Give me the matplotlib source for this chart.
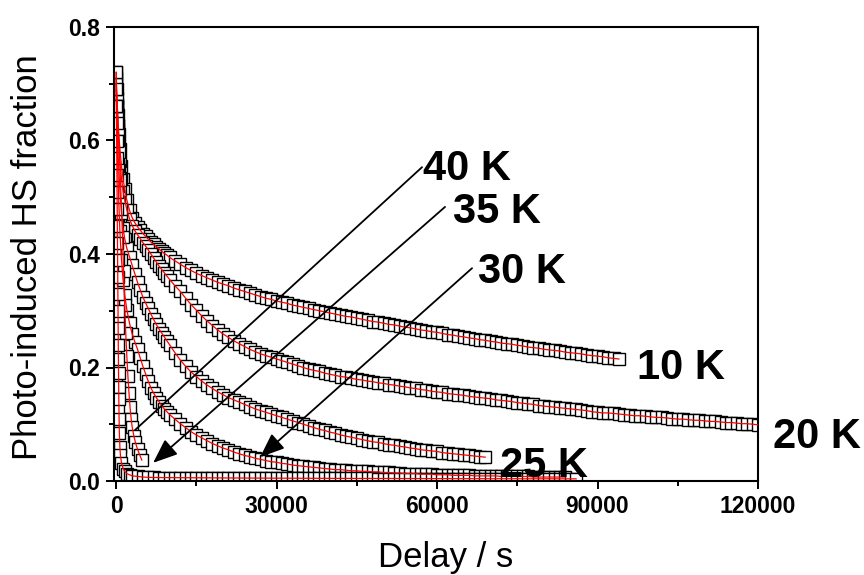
import numpy as np
import matplotlib
matplotlib.use('Agg')
from matplotlib import pyplot as plt
from matplotlib.ticker import MultipleLocator

plt.rcParams['font.family'] = ['Liberation Sans', 'DejaVu Sans']

# sampling of the delay axis (s) for the long runs
t_early = [0, 100, 200, 300, 400, 500, 700, 1000, 1300, 1600, 2000]


def grid(end):
    return np.concatenate([t_early, np.arange(2500, 10001, 500), np.arange(11000, end + 1, 1000)])


t10 = grid(94000)
y10 = [0.720, 0.690, 0.665, 0.645, 0.627, 0.611, 0.585, 0.555, 0.532, 0.514, 0.495,
       0.477, 0.464, 0.455, 0.448, 0.442, 0.436, 0.431, 0.426, 0.421, 0.417, 0.413, 0.409, 0.405, 0.401, 0.398, 0.394,
       0.388, 0.382, 0.376, 0.371, 0.366, 0.362, 0.358, 0.354, 0.350, 0.347,
       0.344, 0.340, 0.337, 0.334, 0.331, 0.328, 0.325, 0.322, 0.320, 0.317,
       0.315, 0.313, 0.310, 0.308, 0.306, 0.304, 0.302, 0.300, 0.298, 0.296,
       0.294, 0.292, 0.290, 0.289, 0.287, 0.285, 0.283, 0.281, 0.280, 0.278,
       0.276, 0.275, 0.273, 0.271, 0.270, 0.268, 0.266, 0.265, 0.263, 0.262,
       0.260, 0.258, 0.257, 0.255, 0.254, 0.252, 0.251, 0.249, 0.248, 0.246,
       0.245, 0.243, 0.242, 0.241, 0.239, 0.238, 0.236, 0.235, 0.234, 0.232,
       0.231, 0.230, 0.229, 0.227, 0.226, 0.225, 0.224, 0.222, 0.221, 0.220,
       0.219, 0.217, 0.216, 0.215]

t20 = grid(120000)
y20 = [0.710, 0.675, 0.648, 0.625, 0.606, 0.590, 0.563, 0.533, 0.511, 0.495, 0.478,
       0.462, 0.450, 0.441, 0.434, 0.427, 0.420, 0.414, 0.407, 0.400, 0.393, 0.386, 0.379, 0.373, 0.367, 0.361, 0.355,
       0.344, 0.334, 0.322, 0.311, 0.301, 0.291, 0.282, 0.274, 0.266, 0.259,
       0.253, 0.247, 0.242, 0.237, 0.232, 0.228, 0.224, 0.221, 0.218, 0.215,
       0.212, 0.209, 0.206, 0.203, 0.200, 0.197, 0.195, 0.193, 0.190, 0.188,
       0.186, 0.184, 0.183, 0.181, 0.179, 0.178, 0.176, 0.175, 0.173, 0.172,
       0.170, 0.169, 0.167, 0.166, 0.164, 0.163, 0.161, 0.160, 0.158, 0.157,
       0.156, 0.154, 0.153, 0.152, 0.151, 0.149, 0.148, 0.147, 0.146, 0.145,
       0.143, 0.142, 0.141, 0.140, 0.138, 0.137, 0.136, 0.135, 0.133, 0.132,
       0.131, 0.130, 0.129, 0.128, 0.127, 0.126, 0.125, 0.124, 0.122, 0.121,
       0.120, 0.120, 0.119, 0.118, 0.117, 0.116, 0.115, 0.115, 0.114, 0.113,
       0.112, 0.112, 0.111, 0.110, 0.109, 0.109, 0.108, 0.107, 0.107, 0.106,
       0.105, 0.105, 0.104, 0.103, 0.103, 0.102, 0.101, 0.101, 0.100, 0.099]

t25 = grid(69000)
y25 = [0.700, 0.660, 0.625, 0.595, 0.570, 0.548, 0.512, 0.473, 0.446, 0.427, 0.410,
       0.395, 0.380, 0.365, 0.350, 0.337, 0.324, 0.314, 0.304, 0.294, 0.285, 0.276, 0.268, 0.261, 0.254, 0.247, 0.240,
       0.226, 0.213, 0.202, 0.192, 0.184, 0.176, 0.169, 0.163, 0.157, 0.152,
       0.147, 0.143, 0.139, 0.135, 0.131, 0.127, 0.124, 0.121, 0.118, 0.115,
       0.112, 0.109, 0.106, 0.103, 0.100, 0.097, 0.094, 0.091, 0.089, 0.086,
       0.084, 0.081, 0.079, 0.077, 0.075, 0.073, 0.071, 0.069, 0.068, 0.066,
       0.064, 0.063, 0.061, 0.060, 0.058, 0.057, 0.055, 0.054, 0.053, 0.052,
       0.050, 0.049, 0.048, 0.047, 0.046, 0.045, 0.044, 0.043, 0.042]

t30 = grid(84000)
y30 = [0.690, 0.640, 0.595, 0.555, 0.520, 0.490, 0.440, 0.390, 0.354, 0.328, 0.302,
       0.278, 0.259, 0.245, 0.232, 0.217, 0.202, 0.189, 0.176, 0.164, 0.155, 0.147, 0.140, 0.133, 0.127, 0.122, 0.117,
       0.109, 0.101, 0.094, 0.087, 0.081, 0.076, 0.071, 0.066, 0.062, 0.058,
       0.055, 0.051, 0.048, 0.045, 0.043, 0.040, 0.038, 0.036, 0.034, 0.033,
       0.031, 0.030, 0.028, 0.027, 0.026, 0.025, 0.024, 0.023, 0.022, 0.021,
       0.020, 0.020, 0.019, 0.018, 0.018, 0.017, 0.017, 0.016, 0.016, 0.015,
       0.015, 0.014, 0.014, 0.013, 0.013, 0.013, 0.012, 0.012, 0.012, 0.011,
       0.011, 0.011, 0.010, 0.010, 0.010, 0.010, 0.009, 0.009, 0.009, 0.009,
       0.009, 0.008, 0.008, 0.008, 0.008, 0.008, 0.008, 0.007, 0.007, 0.007,
       0.007, 0.007, 0.007, 0.007]

t35 = [0, 200, 400, 600, 800, 1000, 1200, 1400, 1600, 1800, 2000, 2200, 2400, 2600, 2800,
       3000, 3300, 3600, 4000, 4400, 4800]
y35 = [0.70, 0.66, 0.62, 0.58, 0.53, 0.48, 0.43, 0.37, 0.31, 0.26, 0.22, 0.185, 0.155, 0.13, 0.11,
       0.095, 0.08, 0.068, 0.056, 0.046, 0.037]

t40 = np.concatenate([np.arange(0, 501, 25),
                      [550, 600, 700, 800, 1000, 1300, 1600, 2000, 2500, 3000, 4000, 5000, 6000],
                      np.arange(7000, 86001, 1000)])
y40 = [0.72, 0.69, 0.66, 0.63, 0.60, 0.57, 0.54, 0.51, 0.48, 0.45, 0.42, 0.39, 0.36, 0.33, 0.30,
       0.27, 0.24, 0.215, 0.19, 0.165, 0.145,
       0.11, 0.085, 0.06, 0.045, 0.032, 0.022, 0.017, 0.013, 0.011, 0.009, 0.008, 0.007, 0.0065,
       0.0062, 0.0061, 0.0060, 0.0060, 0.0059, 0.0058, 0.0058, 0.0057, 0.0057, 0.0056,
       0.0056, 0.0055, 0.0055, 0.0054, 0.0054, 0.0053, 0.0053, 0.0052, 0.0052, 0.0052,
       0.0051, 0.0051, 0.0050, 0.0050, 0.0050, 0.0049, 0.0049, 0.0049, 0.0048, 0.0048,
       0.0048, 0.0047, 0.0047, 0.0047, 0.0046, 0.0046, 0.0046, 0.0046, 0.0045, 0.0045,
       0.0045, 0.0045, 0.0044, 0.0044, 0.0044, 0.0044, 0.0043, 0.0043, 0.0043, 0.0043,
       0.0043, 0.0042, 0.0042, 0.0042, 0.0042, 0.0042, 0.0041, 0.0041, 0.0041, 0.0041,
       0.0041, 0.0041, 0.0040, 0.0040, 0.0040, 0.0040, 0.0040, 0.0040, 0.0040, 0.0039,
       0.0039, 0.0039, 0.0039, 0.0039, 0.0039, 0.0039, 0.0038, 0.0038, 0.0038, 0.0038]

series = [(t10, y10), (t20, y20), (t25, y25), (t30, y30), (t35, y35), (t40, y40)]

# labels: text, x, baseline y
labels = [('10 K', 97400, 0.180), ('20 K', 122800, 0.058), ('25 K', 71800, 0.007),
          ('30 K', 67700, 0.349), ('35 K', 63000, 0.455), ('40 K', 57400, 0.530)]
# pointer lines: start, end, with head?
pointers = [((57190, 0.553), (3550, 0.090), False),
            ((61490, 0.483), (6915, 0.032), True),
            ((66540, 0.375), (26910, 0.042), True)]

fig = plt.figure(figsize=(8.64, 5.75), dpi=100)
ax = fig.add_axes([114/864, 1-481/575, 644/864, 454/575])

for t, y in series:
    ax.plot(t, y, 's', ms=8.5, mfc='white', mec='black', mew=1.0, zorder=2)
    ax.plot(t, y, '-', color='red', lw=0.9, zorder=3)

for (x0, y0), (x1, y1), head in pointers:
    style = '-|>,head_length=1.5,head_width=0.6' if head else '-'
    ax.annotate('', xy=(x1, y1), xytext=(x0, y0),
                arrowprops=dict(arrowstyle=style, color='black', lw=1.3,
                                shrinkA=0, shrinkB=0, mutation_scale=10), zorder=4)

for s, x, y in labels:
    ax.text(x, y, s, fontsize=30, fontweight='bold', ha='left', va='baseline',
            clip_on=False, zorder=5)

ax.set_xlim(-400, 120000)
ax.set_ylim(0, 0.8)
ax.set_xticks([0, 30000, 60000, 90000, 120000])
ax.xaxis.set_minor_locator(MultipleLocator(15000))
ax.yaxis.set_major_locator(MultipleLocator(0.2))
ax.yaxis.set_minor_locator(MultipleLocator(0.1))
ax.tick_params(which='both', direction='out', top=False, right=False, width=1.4, labelsize=16.5, pad=4)
ax.tick_params(which='major', length=6)
ax.tick_params(which='minor', length=3.5)
for lbl in ax.get_xticklabels() + ax.get_yticklabels():
    lbl.set_fontweight('bold')
for sp in ax.spines.values():
    sp.set_linewidth(1.5)

fig.text(378/864, 1-567/575, 'Delay / s', fontsize=25, ha='left', va='baseline')
fig.text(28/864, 1-257/575, 'Photo-induced HS fraction', fontsize=25, rotation=90,
         ha='center', va='center')

fig.savefig('out.png', dpi=100)
